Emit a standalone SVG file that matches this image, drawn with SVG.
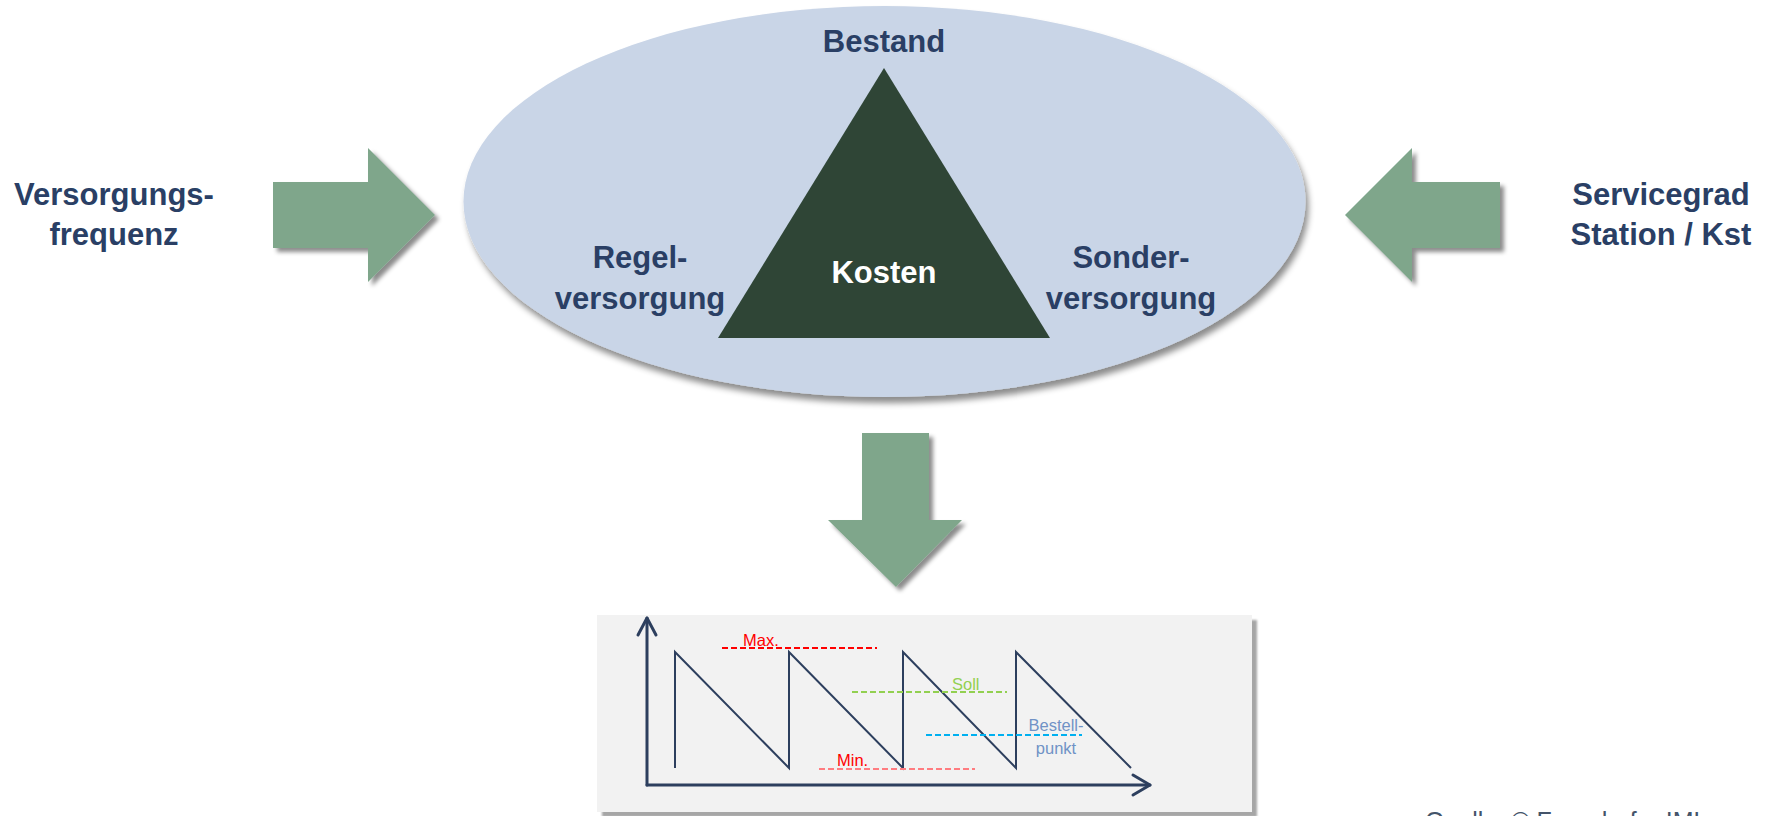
<svg xmlns="http://www.w3.org/2000/svg" width="1782" height="816" viewBox="0 0 1782 816">
  <defs>
    <filter id="softShadow" x="-10%" y="-10%" width="130%" height="130%">
      <feDropShadow dx="4" dy="4" stdDeviation="2.2" flood-color="#000" flood-opacity="0.45"/>
    </filter>
    <filter id="ovalShadow" x="-10%" y="-10%" width="125%" height="130%">
      <feDropShadow dx="3" dy="6" stdDeviation="3" flood-color="#000" flood-opacity="0.45"/>
    </filter>
    <filter id="boxShadow" x="-5%" y="-5%" width="110%" height="115%">
      <feDropShadow dx="5" dy="5" stdDeviation="1" flood-color="#000" flood-opacity="0.35"/>
    </filter>
  </defs>
  <style>
    .label { font-family: "Liberation Sans", Arial, sans-serif; font-weight: 700; font-size: 31px; fill: #2A3F65; text-anchor: middle; }
    .inner { fill: #FFFFFF; }
    .bigArrow { fill: #7FA68B; filter: url(#softShadow); }
    .axis { fill: none; stroke: #2D3F5E; stroke-width: 3; stroke-linecap: round; stroke-linejoin: round; }
    .saw { fill: none; stroke: #2D3F5E; stroke-width: 2; stroke-linejoin: miter; }
    .dash { fill: none; stroke-width: 2; stroke-dasharray: 6 3; }
    .small { font-family: "Liberation Sans", Arial, sans-serif; font-size: 16.5px; }
  </style>

  <rect width="1782" height="816" fill="#FFFFFF"/>

  <!-- central oval with the cost triangle -->
  <g id="oval">
    <ellipse cx="884.5" cy="201.5" rx="421" ry="195.5" fill="#C9D5E7" filter="url(#ovalShadow)"/>
  </g>
  <g id="triangle">
    <polygon points="884,68 1050,338 718,338" fill="#2F4536"/>
    <text class="label inner" x="884" y="283">Kosten</text>
  </g>
  <g id="bestand">
    <text class="label" x="884" y="52">Bestand</text>
  </g>
  <g id="regelversorgung">
    <text class="label" x="640" y="268">Regel-</text>
    <text class="label" x="640" y="309">versorgung</text>
  </g>
  <g id="sonderversorgung">
    <text class="label" x="1131" y="268">Sonder-</text>
    <text class="label" x="1131" y="309">versorgung</text>
  </g>

  <!-- outer influences -->
  <g id="versorgungsfrequenz">
    <text class="label" x="114" y="205">Versorgungs-</text>
    <text class="label" x="114" y="245">frequenz</text>
  </g>
  <g id="servicegrad">
    <text class="label" x="1661" y="205">Servicegrad</text>
    <text class="label" x="1661" y="245">Station / Kst</text>
  </g>

  <!-- block arrows -->
  <g id="connectors">
    <polygon class="bigArrow" points="273,182 368,182 368,148 435,215 368,282 368,248 273,248"/>
    <polygon class="bigArrow" points="1500,182 1412,182 1412,148 1345,215 1412,282 1412,248 1500,248"/>
    <polygon class="bigArrow" points="862,433 929,433 929,520 962,520 896,587 828,520 862,520"/>
  </g>

  <!-- stock level chart -->
  <g id="chart">
    <rect x="597" y="615" width="655" height="197" fill="#F2F2F2" filter="url(#boxShadow)"/>
    <!-- axes -->
    <polyline class="axis" points="647,785 647,618"/>
    <polyline class="axis" points="638,635 647,618 656,635"/>
    <polyline class="axis" points="647,785 1150,785"/>
    <polyline class="axis" points="1133,775 1150,785 1133,795"/>
    <!-- sawtooth stock curve -->
    <polyline class="saw" points="675,768 675,652 789,768 789,652 903,768 903,652 1016,768 1016,652 1131,768"/>
    <!-- reference levels -->
    <line class="dash" x1="722" y1="648" x2="877" y2="648" stroke="#FF0000"/>
    <text class="small" x="743" y="646" fill="#FF0000">Max.</text>
    <line class="dash" x1="852" y1="692" x2="1007" y2="692" stroke="#92D050"/>
    <text class="small" x="952" y="690" fill="#92D050">Soll</text>
    <line class="dash" x1="926" y1="735" x2="1082" y2="735" stroke="#00B0F0"/>
    <text class="small" x="1056" y="731" fill="#7092C6" text-anchor="middle">Bestell-</text>
    <text class="small" x="1056" y="754" fill="#7092C6" text-anchor="middle">punkt</text>
    <line class="dash" x1="819" y1="769" x2="975" y2="769" stroke="#FF7C80"/>
    <text class="small" x="837" y="766" fill="#FF0000">Min.</text>
  </g>

  <g id="source">
    <text x="1425" y="830" font-family="'Liberation Sans', Arial, sans-serif" font-size="25" fill="#44546A">Quelle: © Fraunhofer IML</text>
  </g>
</svg>
